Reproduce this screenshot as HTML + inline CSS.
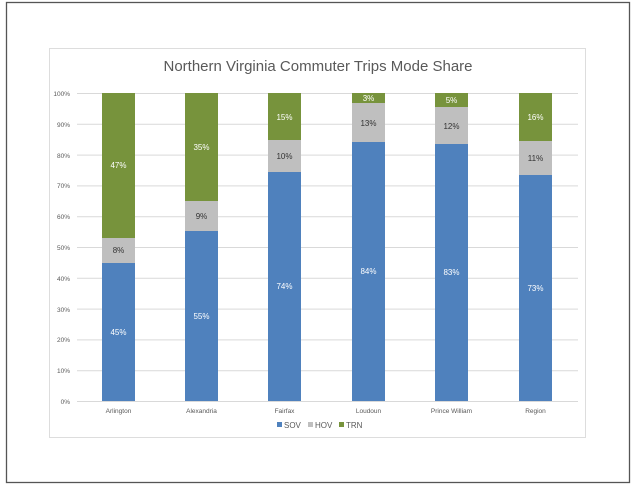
<!DOCTYPE html>
<html><head><style>
html,body{margin:0;padding:0;background:#fff;}
svg{display:block;font-family:"Liberation Sans",sans-serif;}
</style></head><body>
<svg width="632" height="487" viewBox="0 0 632 487" xmlns="http://www.w3.org/2000/svg">
<rect x="0" y="0" width="632" height="487" fill="#fff"/>
<rect x="6.5" y="2.5" width="623" height="480" fill="none" stroke="#555" stroke-width="1.3"/>
<rect x="49.5" y="48.5" width="536" height="389" fill="#fff" stroke="#ddd" stroke-width="1"/>
<text x="318" y="71" text-anchor="middle" font-size="15" fill="#595959">Northern Virginia Commuter Trips Mode Share</text>
<g stroke="#d9d9d9" stroke-width="1">
<line x1="77" x2="578" y1="93.5" y2="93.5"/><line x1="77" x2="578" y1="124.3" y2="124.3"/>
<line x1="77" x2="578" y1="155.1" y2="155.1"/><line x1="77" x2="578" y1="185.9" y2="185.9"/>
<line x1="77" x2="578" y1="216.7" y2="216.7"/><line x1="77" x2="578" y1="247.5" y2="247.5"/>
<line x1="77" x2="578" y1="278.3" y2="278.3"/><line x1="77" x2="578" y1="309.1" y2="309.1"/>
<line x1="77" x2="578" y1="339.9" y2="339.9"/><line x1="77" x2="578" y1="370.7" y2="370.7"/>
<line x1="77" x2="578" y1="401.5" y2="401.5"/>
</g>
<g font-size="6.5" fill="#595959" text-anchor="end">
<text x="70" y="96">100%</text><text x="70" y="127">90%</text><text x="70" y="158">80%</text>
<text x="70" y="188">70%</text><text x="70" y="219">60%</text><text x="70" y="250">50%</text>
<text x="70" y="281">40%</text><text x="70" y="312">30%</text><text x="70" y="342">20%</text>
<text x="70" y="373">10%</text><text x="70" y="404">0%</text>
</g>
<!-- bars -->
<g>
<rect x="102" y="263" width="33" height="138" fill="#4f81bd"/>
<rect x="102" y="238" width="33" height="25" fill="#bfbfbf"/>
<rect x="102" y="93" width="33" height="145" fill="#77933c"/>

<rect x="185" y="231" width="33" height="170" fill="#4f81bd"/>
<rect x="185" y="201" width="33" height="30" fill="#bfbfbf"/>
<rect x="185" y="93" width="33" height="108" fill="#77933c"/>

<rect x="268" y="172" width="33" height="229" fill="#4f81bd"/>
<rect x="268" y="140" width="33" height="32" fill="#bfbfbf"/>
<rect x="268" y="93" width="33" height="47" fill="#77933c"/>

<rect x="352" y="142" width="33" height="259" fill="#4f81bd"/>
<rect x="352" y="103" width="33" height="39" fill="#bfbfbf"/>
<rect x="352" y="93" width="33" height="10" fill="#77933c"/>

<rect x="435" y="144" width="33" height="257" fill="#4f81bd"/>
<rect x="435" y="107" width="33" height="37" fill="#bfbfbf"/>
<rect x="435" y="93" width="33" height="14" fill="#77933c"/>

<rect x="519" y="175" width="33" height="226" fill="#4f81bd"/>
<rect x="519" y="141" width="33" height="34" fill="#bfbfbf"/>
<rect x="519" y="93" width="33" height="48" fill="#77933c"/>
</g>
<g font-size="8" text-anchor="middle">
<text x="118.5" y="335" fill="#fff">45%</text><text x="118.5" y="253" fill="#333">8%</text><text x="118.5" y="168" fill="#fff">47%</text>
<text x="201.5" y="319" fill="#fff">55%</text><text x="201.5" y="219" fill="#333">9%</text><text x="201.5" y="150" fill="#fff">35%</text>
<text x="284.5" y="289" fill="#fff">74%</text><text x="284.5" y="159" fill="#333">10%</text><text x="284.5" y="120" fill="#fff">15%</text>
<text x="368.5" y="274" fill="#fff">84%</text><text x="368.5" y="126" fill="#333">13%</text><text x="368.5" y="101" fill="#fff">3%</text>
<text x="451.5" y="275" fill="#fff">83%</text><text x="451.5" y="129" fill="#333">12%</text><text x="451.5" y="103" fill="#fff">5%</text>
<text x="535.5" y="291" fill="#fff">73%</text><text x="535.5" y="161" fill="#333">11%</text><text x="535.5" y="120" fill="#fff">16%</text>
</g>
<g font-size="6.5" fill="#595959" text-anchor="middle">
<text x="118.5" y="413">Arlington</text><text x="201.5" y="413">Alexandria</text><text x="284.5" y="413">Fairfax</text>
<text x="368.5" y="413">Loudoun</text><text x="451.5" y="413">Prince William</text><text x="535.5" y="413">Region</text>
</g>
<g font-size="8" fill="#595959">
<rect x="277" y="422" width="5" height="5" fill="#4f81bd"/><text x="284" y="428">SOV</text>
<rect x="308" y="422" width="5" height="5" fill="#bfbfbf"/><text x="315" y="428">HOV</text>
<rect x="339" y="422" width="5" height="5" fill="#77933c"/><text x="346" y="428">TRN</text>
</g>
</svg>
</body></html>
